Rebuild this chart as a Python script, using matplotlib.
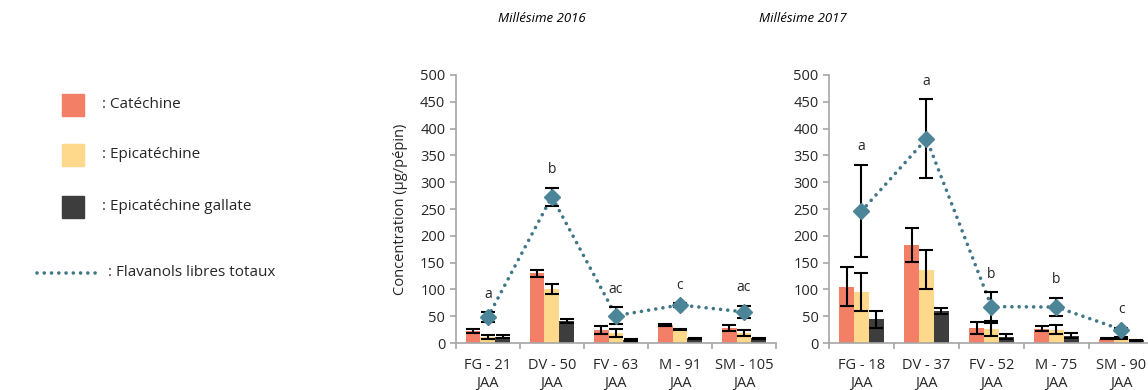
import matplotlib.pyplot as plt
import numpy as np
from matplotlib.lines import Line2D
from matplotlib.patches import Rectangle

plt.rcParams["font.family"] = ["Open Sans", "DejaVu Sans"]

stages_2016 = ["FG - 21\nJAA", "DV - 50\nJAA", "FV - 63\nJAA", "M - 91\nJAA", "SM - 105\nJAA"]
cat_2016 = [22, 130, 24, 34, 28]
cat_err_2016 = [4, 7, 8, 2, 5]
epi_2016 = [11, 101, 19, 25, 19]
epi_err_2016 = [4, 9, 8, 1, 5]
ecg_2016 = [12, 41, 6, 9, 9]
ecg_err_2016 = [3, 3, 2, 1, 1]
total_2016 = [48, 273, 51, 71, 58]
total_err_2016 = [9, 17, 16, 3, 11]
letters_2016 = ["a", "b", "ac", "c", "ac"]

stages_2017 = ["FG - 18\nJAA", "DV - 37\nJAA", "FV - 52\nJAA", "M - 75\nJAA", "SM - 90\nJAA"]
cat_2017 = [105, 183, 28, 27, 8]
cat_err_2017 = [36, 31, 11, 5, 1]
epi_2017 = [95, 137, 26, 25, 10]
epi_err_2017 = [35, 37, 12, 9, 2]
ecg_2017 = [44, 60, 12, 14, 5]
ecg_err_2017 = [16, 6, 5, 5, 1]
total_2017 = [246, 381, 68, 67, 25]
total_err_2017 = [86, 74, 27, 17, 3]
letters_2017 = ["a", "a", "b", "b", "c"]

series_names = [": Catéchine", ": Epicatéchine", ": Epicatéchine gallate"]
total_name = ": Flavanols libres totaux"
colors = ["#f47f67", "#fed88b", "#3d3d3d"]
line_color = "#3f7688"
marker_color = "#4b8597"
text_color = "#262626"
spine_color = "#a6a6a6"


def draw_panel(ax, stages, bars, errs, total, total_err, letters):
    x = np.arange(len(stages))
    width = 0.23
    for i, (vals, err) in enumerate(zip(bars, errs)):
        ax.bar(x + (i - 1) * width, vals, width, color=colors[i], zorder=2)
        ax.errorbar(x + (i - 1) * width, vals, yerr=err, fmt="none", ecolor="black",
                    elinewidth=1.5, capsize=5, capthick=1.5, zorder=3)
    ax.plot(x, total, color=line_color, lw=2.6, linestyle=(0, (0.01, 2.0)),
            dash_capstyle="round", zorder=4)
    ax.errorbar(x, total, yerr=total_err, fmt="none", ecolor="black",
                elinewidth=1.5, capsize=5, capthick=1.5, zorder=5)
    ax.plot(x, total, "D", color=marker_color, ms=8, zorder=6)
    for xi, t, e, lab in zip(x, total, total_err, letters):
        ax.annotate(lab, (xi, t + e), xytext=(0, 13), textcoords="offset points",
                    ha="center", va="center", fontsize=10, color=text_color)

    ax.set_xlim(-0.5, len(stages) - 0.5)
    ax.set_ylim(0, 500)
    ax.set_yticks(np.arange(0, 501, 50))
    ax.set_xticks(np.arange(len(stages) + 1) - 0.5)
    ax.set_xticklabels([])
    ax.set_xticks(x, minor=True)
    ax.set_xticklabels(stages, minor=True, fontsize=10.5, color=text_color, linespacing=1.25)
    ax.tick_params(axis="x", which="major", length=4, color=spine_color, width=1.2)
    ax.tick_params(axis="x", which="minor", length=0, pad=11)
    ax.tick_params(axis="y", length=4, color=spine_color, width=1.2,
                   labelsize=10.5, labelcolor=text_color)
    for side in ["top", "right"]:
        ax.spines[side].set_visible(False)
    for side in ["left", "bottom"]:
        ax.spines[side].set_color(spine_color)
        ax.spines[side].set_linewidth(1.2)


fig = plt.figure(figsize=(11.48, 3.9), dpi=100)
ax1 = fig.add_axes([0.397, 0.1205, 0.279, 0.6872])
ax2 = fig.add_axes([0.7221, 0.1205, 0.2831, 0.6872])

draw_panel(ax1, stages_2016, [cat_2016, epi_2016, ecg_2016],
           [cat_err_2016, epi_err_2016, ecg_err_2016], total_2016, total_err_2016, letters_2016)
draw_panel(ax2, stages_2017, [cat_2017, epi_2017, ecg_2017],
           [cat_err_2017, epi_err_2017, ecg_err_2017], total_2017, total_err_2017, letters_2017)
ax1.set_ylabel("Concentration (µg/pépin)", fontsize=10.5, color=text_color, labelpad=9)

fig.text(542 / 1148, 1 - 18 / 390, "Millésime 2016", ha="center", va="center",
         style="italic", fontsize=9.5, color="black")
fig.text(803 / 1148, 1 - 18 / 390, "Millésime 2017", ha="center", va="center",
         style="italic", fontsize=9.5, color="black")

# legend drawn by hand to match the spaced-out layout
for i, (name, col) in enumerate(zip(series_names, colors)):
    yc = [105, 155, 207][i]
    fig.patches.append(Rectangle((62 / 1148, 1 - (yc + 11) / 390), 22 / 1148, 22 / 390,
                                 transform=fig.transFigure, color=col, figure=fig))
    fig.text(102 / 1148, 1 - yc / 390, name, ha="left", va="center",
             fontsize=11, color=text_color)
fig.lines.append(Line2D([37 / 1148, 100 / 1148], [1 - 273 / 390, 1 - 273 / 390],
                        transform=fig.transFigure, color=line_color, lw=2.6,
                        linestyle=(0, (0.01, 2.0)), dash_capstyle="round", figure=fig))
fig.text(108 / 1148, 1 - 273 / 390, total_name, ha="left", va="center",
         fontsize=11, color=text_color)

fig.savefig("out.png", dpi=100)
